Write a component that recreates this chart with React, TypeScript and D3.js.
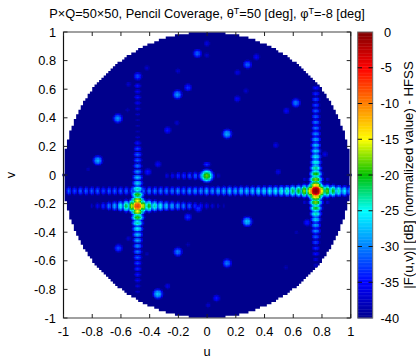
import * as d3 from "d3";

// colour bar
const cbTicks = [0, -5, -10, -15, -20, -25, -30, -35, -40];
const cbDomain = [-40, -35, -30, -25, -20, -15, -10, -5, 0];
const cbColors = ["#00008c", "#0000ff", "#0080ff", "#00ffff", "#00c000", "#ffff00", "#ff8000", "#ff0000", "#800000"];
const axisTicks = [-1, -0.8, -0.6, -0.4, -0.2, 0, 0.2, 0.4, 0.6, 0.8, 1];

// main beams [u, v, dB]
const mainBeams = [
  [0.757, -0.11, -0.5],
  [-0.484, -0.215, -8],
];
const centreSpot = [-0.002, -0.004, -18];

// isolated spots [u, v, dB]
const spots = [
  [-0.068, 0.851, -31], [-0.483, 0.692, -32], [-0.207, 0.564, -29], [-0.134, 0.613, -33],
  [-0.622, 0.397, -29], [-0.276, 0.315, -34], [-0.211, 0.366, -37], [-0.761, 0.103, -28],
  [-0.343, 0.077, -35], [-0.42, 0.75, -37], [-0.548, 0.636, -37], [-0.204, 0.729, -37],
  [-0.555, 0.455, -38], [-0.829, 0.042, -38], [-0.413, 0.023, -34], [0.281, 0.774, -31],
  [0.343, 0.827, -35], [0.211, 0.718, -36], [0.27, 0.59, -37], [0.209, 0.534, -35],
  [0.618, 0.506, -30], [0.552, 0.45, -35], [0.139, 0.289, -28], [0.478, 0.21, -36],
  [0.82, 0.147, -36], [0.494, 0.023, -36], [-0.002, 0.921, -36], [-0.002, 0.839, -37],
  [-0.618, -0.51, -32], [-0.204, -0.536, -30], [-0.548, -0.443, -37], [-0.134, -0.292, -33],
  [-0.061, -0.233, -33], [-0.343, -0.83, -27], [-0.276, -0.776, -36], [-0.134, -0.485, -38],
  [-0.42, -0.552, -38], [0.279, -0.324, -27], [0.139, -0.615, -30], [0.065, -0.86, -34],
  [0.696, -0.331, -34], [0.622, -0.401, -38], [0.548, -0.645, -38], [0.007, -0.909, -37],
];

// side lobes along the arms, first lobe outwards, dB
const lobeStep = 0.04;
const beamBLeft = [-14, -17, -20, -21, -23, -24, -25, -25, -26, -26, -27, -27, -27, -28, -27, -28, -28, -29, -28, -29, -29, -29, -30, -29, -30, -30, -30, -30, -30, -31, -31, -31, -31, -31, -31, -31, -32, -31, -31, -31, -31, -32, -31];
const beamBRight = [-14, -18, -20, -23, -25, -27];
const beamBUp = [-13, -17, -19, -22, -24, -25, -26, -27, -28, -29, -30, -30, -31, -31, -32, -32, -33, -34];
const beamBDown = [-13, -17, -20, -23, -26, -28, -29, -31, -32, -33, -34, -36, -37];
const beamALeft = [-16, -21, -25, -28, -30, -33, -35, -37];
const beamARight = [-16, -20, -23, -25, -27, -28, -29, -30, -31, -33, -34, -35, -36, -37, -38];
const beamAUp = [-15, -19, -23, -26, -27, -29, -30, -31, -31, -32, -34, -37, -38, -38, -38, -37, -36, -35, -34, -35, -34];
const beamADown = [-15, -19, -23, -25, -27, -28, -29, -30, -31, -32, -33, -34, -35, -36, -37];
const centreLeft = [-30, -31, -32, -33, -33, -35, -36];
const centreRight = [-33, -37];
const centreUp = [-36, -33];
const centreDown = [-37, -36];

// off-axis lobes around each beam, row j, column i
const beamBDiagonal = [[-30, -33, -36], [-33, -36], [-36]];
const beamADiagonal = [[-33, -36], [-36]];

const width = 416;
const height = 360;
const floorDb = -40;
const spotSigma = 0.0112;
const alongSigma = 0.0066;
const acrossSigma = 0.011;
const mainRadius = 0.0348; // main beam is 12 dB down here, flat top and steep edge
const mainDrop = 12;
const mainPower = 1.5;
const cell = 0.01;
const floorRow = 0.016;

const x = d3.scaleLinear().domain([-1, 1]).range([63.5, 350.7]);
const y = d3.scaleLinear().domain([-1, 1]).range([318, 32]);
const cbY = d3.scaleLinear().domain([-40, 0]).range([318, 32]);
const colour = d3.scaleLinear<string>().domain(cbDomain).range(cbColors).interpolate(d3.interpolateRgb).clamp(true);

type Lobe = { u: number; v: number; db: number; su: number; sv: number; drop?: number; power?: number };
const lobes: Lobe[] = [];
const addArm = (o: number[], du: number, dv: number, vals: number[]) =>
  vals.forEach((db, k) =>
    lobes.push({
      u: o[0] + du * (k + 1) * lobeStep,
      v: o[1] + dv * (k + 1) * lobeStep,
      db,
      su: du !== 0 ? alongSigma : acrossSigma,
      sv: dv !== 0 ? alongSigma : acrossSigma,
    })
  );
const addDiagonal = (o: number[], table: number[][]) =>
  table.forEach((row, j) =>
    row.forEach((db, i) => {
      [-1, 1].forEach((sx) =>
        [-1, 1].forEach((sy) =>
          lobes.push({ u: o[0] + sx * (i + 1) * lobeStep, v: o[1] + sy * (j + 1) * lobeStep, db, su: alongSigma, sv: alongSigma })
        )
      );
    })
  );

mainBeams.forEach(([u, v, db]) => lobes.push({ u, v, db, su: mainRadius, sv: mainRadius, drop: mainDrop, power: mainPower }));
lobes.push({ u: centreSpot[0], v: centreSpot[1], db: centreSpot[2], su: spotSigma, sv: spotSigma });
spots.forEach(([u, v, db]) => lobes.push({ u, v, db, su: spotSigma, sv: spotSigma }));
addArm(mainBeams[0], -1, 0, beamBLeft);
addArm(mainBeams[0], 1, 0, beamBRight);
addArm(mainBeams[0], 0, 1, beamBUp);
addArm(mainBeams[0], 0, -1, beamBDown);
addArm(mainBeams[1], -1, 0, beamALeft);
addArm(mainBeams[1], 1, 0, beamARight);
addArm(mainBeams[1], 0, 1, beamAUp);
addArm(mainBeams[1], 0, -1, beamADown);
addArm(centreSpot, -1, 0, centreLeft);
addArm(centreSpot, 1, 0, centreRight);
addArm(centreSpot, 0, 1, centreUp);
addArm(centreSpot, 0, -1, centreDown);
addDiagonal(mainBeams[0], beamBDiagonal);
addDiagonal(mainBeams[1], beamADiagonal);

// field value on a u,v grid, only what is above the floor gets a cell
const cells: { u: number; v: number; db: number }[] = [];
d3.range(-1, 1, cell).forEach((u) => {
  d3.range(-1, 1, cell).forEach((v) => {
    const cu = u + cell / 2;
    const cv = v + cell / 2;
    if (cu * cu + cv * cv > 1) return;
    let db = floorDb;
    for (const l of lobes) {
      const du = cu - l.u;
      const dv = cv - l.v;
      if (du * du + dv * dv > 0.02) continue;
      const t = (du * du) / (l.su * l.su) + (dv * dv) / (l.sv * l.sv);
      db = Math.max(db, l.db - (l.drop ?? 1) * Math.pow(t, l.power ?? 1));
    }
    if (db > floorDb + 0.5) cells.push({ u, v, db });
  });
});

// the disc at the floor level, one stepped outline like the sampled pattern
const floorRows = d3.range(-1, 1, floorRow).map((v) => {
  const cv = v + floorRow / 2;
  return { v, half: Math.round(Math.sqrt(Math.max(0, 1 - cv * cv)) / floorRow) * floorRow };
});
const floorOutline: [number, number][] = [];
floorRows.forEach((r) => {
  floorOutline.push([x(r.half), y(r.v)], [x(r.half), y(r.v + floorRow)]);
});
[...floorRows].reverse().forEach((r) => {
  floorOutline.push([x(-r.half), y(r.v + floorRow)], [x(-r.half), y(r.v)]);
});
const floorPath = d3.line()(floorOutline) + "Z";

const font = "'Liberation Sans', Arial, sans-serif";
const borderGrey = "#6e6e6e";

export default function App() {
  const cbStops = d3.range(-40, 0, 0.2);
  return (
    <svg
      width={width}
      height={height}
      style={{ position: "absolute", left: 0, top: 0, background: "#fff" }}
      fontFamily={font}
      fontSize={12.8}
      fill="#000"
    >
      <defs>
        <filter id="soft" x="-5%" y="-5%" width="110%" height="110%">
          <feGaussianBlur stdDeviation="0.4" />
        </filter>
      </defs>

      <text x={207} y={18} textAnchor="middle">
        P×Q=50×50, Pencil Coverage, θ
        <tspan dy={-4} fontSize={9}>T</tspan>
        <tspan dy={4}>=50 [deg], φ</tspan>
        <tspan dy={-4} fontSize={9}>T</tspan>
        <tspan dy={4}>=-8 [deg]</tspan>
      </text>

      <g filter="url(#soft)">
        <path d={floorPath} fill={colour(floorDb)} />
        {cells.map((c) => (
          <rect
            key={`${c.u}_${c.v}`}
            x={x(c.u)}
            y={y(c.v + cell)}
            width={x(c.u + cell) - x(c.u) + 0.3}
            height={y(c.v) - y(c.v + cell) + 0.3}
            fill={colour(c.db)}
          />
        ))}
      </g>

      {/* frame */}
      <rect x={x(-1)} y={y(1)} width={x(1) - x(-1)} height={y(-1) - y(1)} fill="none" stroke={borderGrey} strokeWidth={1.3} />
      <line x1={x(-1)} x2={x(-1)} y1={y(1)} y2={y(-1)} stroke="#111" strokeWidth={1} />
      <line x1={x(1)} x2={x(1)} y1={y(1)} y2={y(-1)} stroke="#333" strokeWidth={1.2} />

      {axisTicks.map((t) => (
        <g key={t}>
          <line x1={x(t)} x2={x(t)} y1={y(-1)} y2={y(-1) - 4} stroke="#222" />
          <line x1={x(t)} x2={x(t)} y1={y(1)} y2={y(1) + 4} stroke="#222" />
          <line x1={x(-1)} x2={x(-1) + 4} y1={y(t)} y2={y(t)} stroke="#222" />
          <line x1={x(1)} x2={x(1) - 4} y1={y(t)} y2={y(t)} stroke="#222" />
          <text x={x(t)} y={y(-1) + 18} textAnchor="middle">{t}</text>
          <text x={56} y={y(t) + 4.5} textAnchor="end">{t}</text>
        </g>
      ))}

      <text x={207} y={356} textAnchor="middle">u</text>
      <text transform="translate(15,175) rotate(-90)" textAnchor="middle">v</text>

      {/* colour bar */}
      {cbStops.map((d) => (
        <rect
          key={d}
          x={357.7}
          width={15}
          y={cbY(d + 0.2)}
          height={cbY(d) - cbY(d + 0.2) + 0.4}
          fill={colour(d + 0.1)}
        />
      ))}
      <rect x={357.7} y={cbY(0)} width={15} height={cbY(-40) - cbY(0)} fill="none" stroke={borderGrey} strokeWidth={1} />
      {cbTicks.map((t) => (
        <g key={t}>
          {t !== 0 && t !== -40 && (
            <>
              <line x1={357.7} x2={362} y1={cbY(t)} y2={cbY(t)} stroke="#111" />
              <line x1={368.5} x2={372.7} y1={cbY(t)} y2={cbY(t)} stroke="#111" />
            </>
          )}
          <text x={t === 0 ? 384 : 380.5} y={cbY(t) + 4.5}>{t}</text>
        </g>
      ))}
      <text transform="translate(412.5,175) rotate(-90)" textAnchor="middle" fontSize={13.2}>
        |F(u,v)| [dB] (normalized value) - HFSS
      </text>
    </svg>
  );
}
